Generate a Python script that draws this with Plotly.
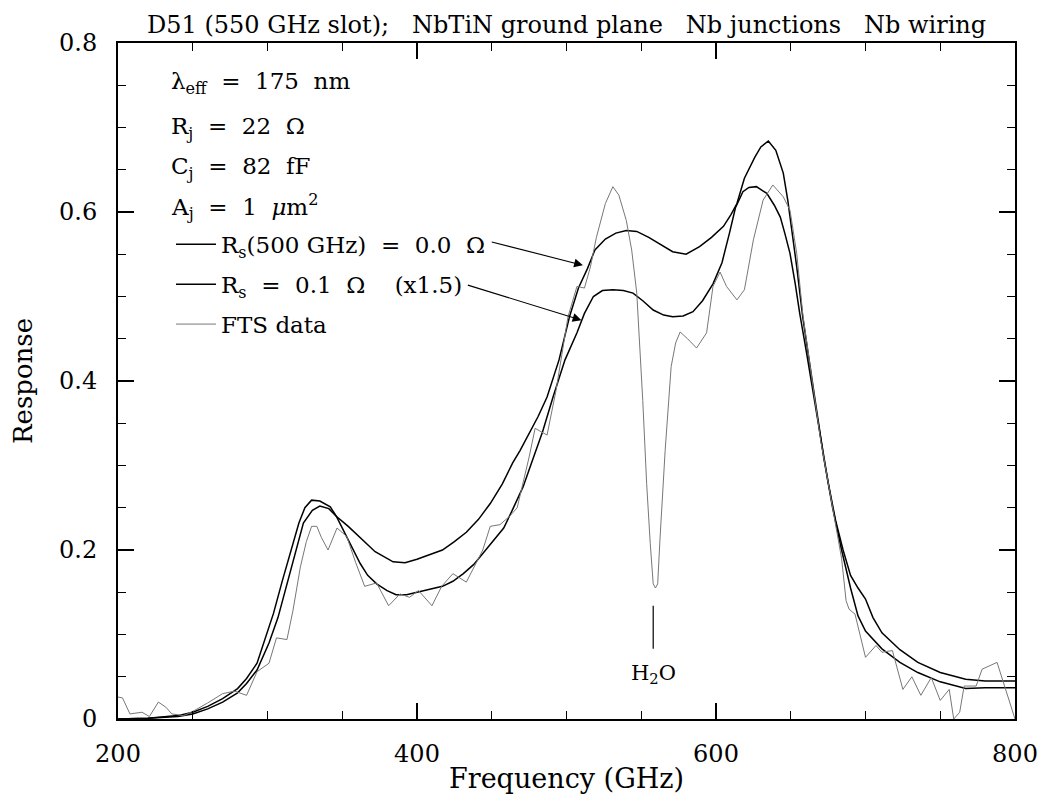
import plotly.graph_objects as go

# ---------------- data ----------------
freq_m0 = [200, 220, 240, 250, 260, 270, 280, 286, 293, 301, 307, 313, 319, 324, 330, 335,
           341, 346, 354, 362, 372, 384, 392, 400, 410, 417, 425, 433, 441, 449, 457, 464,
           469, 475, 481, 487, 495, 502, 508, 514, 519, 526, 533, 540, 547, 555, 563, 571,
           580, 589, 597, 605, 610, 614, 619, 626, 630, 635, 640, 645, 648, 651, 654, 658,
           663, 666, 672, 678, 684, 690, 695, 700, 711, 723, 735, 750, 767, 780, 800]
resp_m0 = [0.000, 0.001, 0.003, 0.006, 0.012, 0.020, 0.031, 0.042, 0.058, 0.090, 0.120, 0.160,
           0.200, 0.232, 0.247, 0.252, 0.249, 0.240, 0.228, 0.215, 0.198, 0.186, 0.185, 0.189,
           0.195, 0.200, 0.210, 0.221, 0.236, 0.255, 0.278, 0.303, 0.318, 0.338, 0.358, 0.381,
           0.425, 0.476, 0.510, 0.533, 0.555, 0.568, 0.575, 0.578, 0.577, 0.570, 0.561, 0.553,
           0.550, 0.559, 0.570, 0.583, 0.597, 0.610, 0.640, 0.665, 0.677, 0.684, 0.673, 0.646,
           0.614, 0.575, 0.535, 0.476, 0.417, 0.378, 0.310, 0.250, 0.200, 0.155, 0.122, 0.104,
           0.083, 0.067, 0.055, 0.044, 0.036, 0.037, 0.037]

freq_m1 = [200, 220, 240, 250, 260, 270, 280, 286, 293, 298, 304, 310, 316, 321, 325, 329.5,
           335, 342, 346, 350.7, 356, 362, 367, 373, 380, 386, 393, 400, 408, 417, 424, 431,
           438, 444, 451, 458, 464, 471, 477, 484, 491, 499, 507, 512, 518, 524, 531, 538,
           544.5, 551, 558, 565, 571, 578, 584.6, 591, 598, 604, 609, 613, 618, 622, 627, 634,
           639, 643, 646, 649.5, 653, 656, 660.6, 665, 670, 675, 680, 685, 690, 695, 700, 705,
           711, 723, 735, 750, 767, 780, 800]
resp_m1 = [0.000, 0.001, 0.004, 0.008, 0.015, 0.024, 0.036, 0.048, 0.066, 0.094, 0.125, 0.164,
           0.200, 0.232, 0.250, 0.259, 0.258, 0.251, 0.240, 0.224, 0.205, 0.184, 0.170, 0.160,
           0.152, 0.147, 0.147, 0.150, 0.153, 0.157, 0.163, 0.172, 0.183, 0.196, 0.210, 0.226,
           0.248, 0.275, 0.305, 0.340, 0.381, 0.425, 0.457, 0.480, 0.500, 0.507, 0.508, 0.507,
           0.504, 0.495, 0.484, 0.478, 0.476, 0.477, 0.482, 0.495, 0.515, 0.540, 0.575, 0.605,
           0.624, 0.629, 0.630, 0.622, 0.608, 0.594, 0.575, 0.551, 0.515, 0.480, 0.433, 0.385,
           0.330, 0.280, 0.235, 0.200, 0.170, 0.155, 0.142, 0.120, 0.102, 0.082, 0.067, 0.055,
           0.047, 0.045, 0.045]

freq_fts = [200, 203, 208, 216, 221, 227, 232, 236, 244, 251, 260, 270, 278, 286, 293, 301,
            306, 313, 317, 322, 326, 329.5, 333, 336, 340.5, 346.5, 353, 359, 365, 373, 381,
            388.6, 395, 401, 410, 416.5, 424, 433, 444, 449, 455.5, 462, 467, 471, 475, 479,
            483, 487, 493, 497, 501, 507, 512, 516, 520, 526, 531, 535, 540, 543.6, 547, 551,
            553.6, 556, 558, 559.5, 561, 562.5, 566, 570, 573, 576, 581, 587, 593.7, 598,
            602.7, 607, 614, 619, 625, 631.5, 638, 645, 649.5, 654, 658, 663, 666, 670, 676,
            681, 684, 687, 689, 693, 700, 707, 711, 718, 725, 731, 737, 744, 750, 756, 759,
            763, 766, 774, 778, 788, 800]
resp_fts = [0.026, 0.025, 0.006, 0.008, 0.003, 0.020, 0.014, 0.006, 0.004, 0.010, 0.019, 0.030,
            0.033, 0.028, 0.056, 0.066, 0.096, 0.094, 0.128, 0.180, 0.210, 0.228, 0.228, 0.215,
            0.200, 0.226, 0.216, 0.185, 0.157, 0.161, 0.134, 0.148, 0.144, 0.152, 0.134, 0.157,
            0.172, 0.162, 0.200, 0.228, 0.230, 0.240, 0.250, 0.279, 0.310, 0.344, 0.340, 0.336,
            0.389, 0.430, 0.476, 0.512, 0.510, 0.535, 0.570, 0.610, 0.630, 0.620, 0.590, 0.555,
            0.504, 0.377, 0.279, 0.208, 0.160, 0.155, 0.160, 0.212, 0.318, 0.417, 0.445, 0.458,
            0.450, 0.439, 0.457, 0.512, 0.529, 0.512, 0.496, 0.508, 0.567, 0.614, 0.632, 0.618,
            0.602, 0.551, 0.480, 0.417, 0.378, 0.330, 0.270, 0.220, 0.190, 0.140, 0.130, 0.124,
            0.073, 0.087, 0.079, 0.081, 0.035, 0.050, 0.028, 0.049, 0.022, 0.035, 0.000, 0.008,
            0.039, 0.039, 0.059, 0.067, 0.000]

NB = "\u00a0"
series_names = [f"R<sub>s</sub>(500 GHz){NB} ={NB} 0.0{NB} \u03a9",
                f"R<sub>s</sub>{NB} ={NB} 0.1{NB} \u03a9{NB}{NB}{NB} (x1.5)",
                "FTS data"]
param_lines = [f"\u03bb<sub>eff</sub>{NB} ={NB} 175{NB} nm",
               f"R<sub>j</sub>{NB} ={NB} 22{NB} \u03a9",
               f"C<sub>j</sub>{NB} ={NB} 82{NB} fF",
               f"A<sub>j</sub>{NB} ={NB} 1{NB} <i>\u03bc</i>m<sup>2</sup>"]
param_y = [0.753, 0.700, 0.652, 0.606]
param_x = 234

title_text = (f"D51 (550 GHz slot);{NB}{NB} NbTiN ground plane{NB}{NB} "
              f"Nb junctions{NB}{NB} Nb wiring")

# arrow annotations: (tail_f, tail_v, head_f, head_v)
arrow_specs = [(449, 0.565, 511, 0.537), (433, 0.514, 510, 0.472)]
h2o_freq, h2o_line_top, h2o_line_bottom, h2o_text_v = 558, 0.134, 0.083, 0.053

FONT = "DejaVu Serif"

fig = go.Figure()
fig.add_trace(go.Scatter(x=freq_m0, y=resp_m0, mode="lines", name=series_names[0],
                         legendgroup="a", line=dict(color="black", width=1.5)))
fig.add_trace(go.Scatter(x=freq_m1, y=resp_m1, mode="lines", name=series_names[1],
                         legendgroup="b", line=dict(color="black", width=1.5)))
fig.add_trace(go.Scatter(x=freq_fts, y=resp_fts, mode="lines", name=series_names[2],
                         legendgroup="c", line=dict(color="#777777", width=1)))

annotations = []
for txt, yv in zip(param_lines, param_y):
    annotations.append(dict(x=param_x, y=yv, xref="x", yref="y", text=txt, showarrow=False,
                            xanchor="left", yanchor="middle",
                            font=dict(family=FONT, size=23, color="black")))
for tf, tv, hf, hv in arrow_specs:
    annotations.append(dict(x=hf, y=hv, ax=tf, ay=tv, xref="x", yref="y", axref="x", ayref="y",
                            text="", showarrow=True, arrowhead=2, arrowsize=1.6,
                            arrowwidth=1.1, arrowcolor="black"))
annotations.append(dict(x=h2o_freq, y=h2o_text_v, xref="x", yref="y", text="H<sub>2</sub>O",
                        showarrow=False, font=dict(family=FONT, size=21, color="black")))
annotations.append(dict(x=0.5, y=1, xref="paper", yref="paper", text=title_text,
                        showarrow=False, yanchor="bottom", yshift=2,
                        font=dict(family=FONT, size=24, color="black")))

fig.add_shape(type="line", x0=h2o_freq, x1=h2o_freq, y0=h2o_line_bottom, y1=h2o_line_top,
              xref="x", yref="y", line=dict(color="black", width=1.2))

axis_common = dict(showline=True, linecolor="black", linewidth=2, mirror="ticks",
                   ticks="inside", ticklen=16, tickwidth=1.5, tickcolor="black",
                   showgrid=False, zeroline=False, automargin=False,
                   ticklabeloverflow="allow",
                   tickfont=dict(family=FONT, size=24, color="black"))

# the page body adds an 8px offset to the figure; margins compensate for it
fig.update_layout(
    width=1045, height=804,
    margin=dict(l=110, r=38, t=35, b=93),
    paper_bgcolor="white", plot_bgcolor="white",
    showlegend=True,
    legend=dict(x=0.0591, y=0.734, xanchor="left", yanchor="top",
                bgcolor="rgba(0,0,0,0)", borderwidth=0, tracegroupgap=7,
                traceorder="grouped", itemwidth=40,
                font=dict(family=FONT, size=23, color="black")),
    annotations=annotations,
    xaxis=dict(range=[200, 800], dtick=200, tick0=200,
               minor=dict(ticks="inside", ticklen=8, dtick=50, tickwidth=1.2, tickcolor="black"),
               title=dict(text="Frequency (GHz)", font=dict(family=FONT, size=27, color="black"),
                          standoff=2),
               ticklabelstandoff=12, **axis_common),
    yaxis=dict(range=[0, 0.8], dtick=0.2, tick0=0,
               minor=dict(ticks="inside", ticklen=8, dtick=0.05, tickwidth=1.2, tickcolor="black"),
               title=dict(text="Response", font=dict(family=FONT, size=26, color="black"),
                          standoff=24),
               ticklabelstandoff=14, **axis_common),
)

fig.write_html("out.html")
